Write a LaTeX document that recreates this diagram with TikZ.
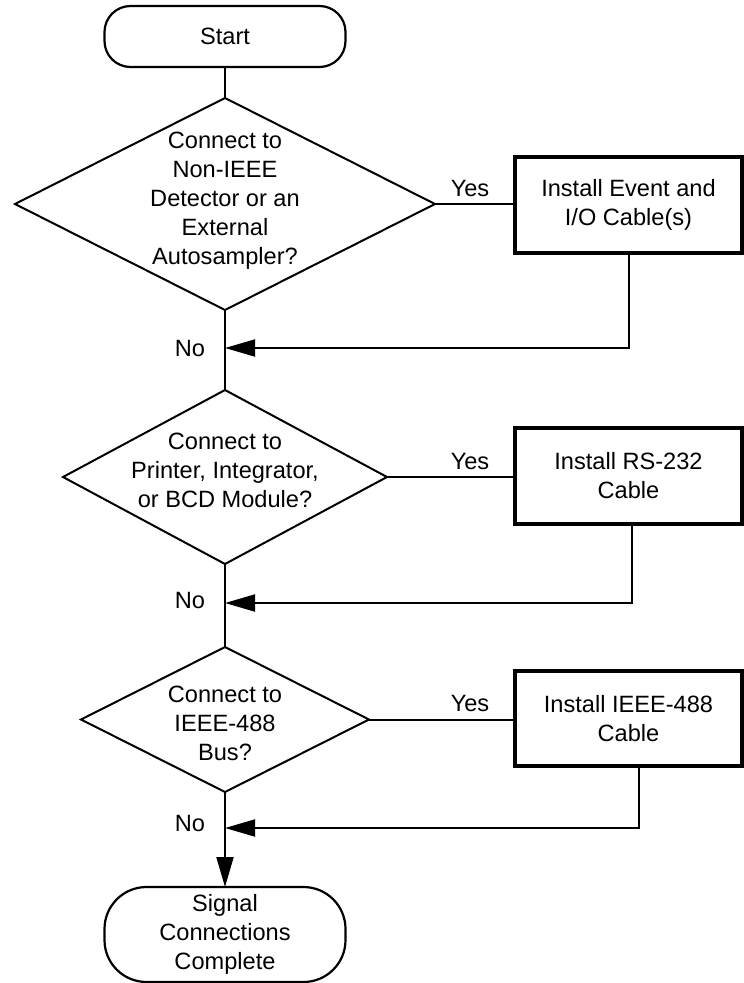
\documentclass[tikz,border=0pt]{standalone}
\usepackage{fontspec}
\setmainfont{Liberation Sans}
\usetikzlibrary{shapes.geometric,arrows.meta}
\begin{document}
\begin{tikzpicture}[x=1pt,y=-1pt,
  font=\fontsize{23.6}{29}\selectfont,
  term/.style={draw,line width=2.2pt,rectangle,minimum width=241pt,align=center,inner sep=0pt,outer sep=0pt},
  dia/.style={draw,line width=2pt,diamond,inner sep=0pt,outer sep=0pt},
  act/.style={draw,line width=4pt,rectangle,minimum width=227pt,align=center,inner sep=0pt,outer sep=0pt},
  conn/.style={line width=2pt,line join=miter},
  arr/.style={conn,-{Triangle[length=30pt,width=17pt]}},
  lbl/.style={inner sep=0pt,align=center}
]
\useasboundingbox (0,0) rectangle (744,983);

% terminators
\node[term,minimum height=61pt,rounded corners=26pt] (start) at (225,36.5) {Start};
\node[term,minimum height=95pt,rounded corners=42pt] (end) at (225,934.5) {Signal\\Connections\\Complete};

% decisions
\node[dia,minimum width=420pt,minimum height=212pt] (d1) at (225,204) {};
\node[lbl] (t1) at (225,201) {Connect to\\Non-IEEE\\Detector or an\\External\\Autosampler?};
\node[dia,minimum width=324pt,minimum height=174pt] (d2) at (225,477) {};
\node[lbl] (t2) at (225,470) {Connect to\\Printer, Integrator,\\or BCD Module?};
\node[dia,minimum width=288pt,minimum height=145pt] (d3) at (225,719.5) {};
\node[lbl] (t3) at (225,723) {Connect to\\IEEE-488\\Bus?};

% actions
\node[act,minimum height=96pt] (b1) at (628.5,205) {Install Event and\\I/O Cable(s)};
\node[act,minimum height=96pt] (b2) at (628.5,476) {Install RS-232\\Cable};
\node[act,minimum height=95pt] (b3) at (628.5,718.5) {Install IEEE-488\\Cable};

% junctions
\coordinate (j1) at (225,348);
\coordinate (j2) at (225,603);
\coordinate (j3) at (225,828);

% connectors
\draw[conn] (start.south) -- (d1.north);
\draw[conn] (d1.east) -- (d1.east -| b1.west);
\draw[arr] (b1.south) |- (j1);
\draw[conn] (d1.south) -- (d2.north);
\draw[conn] (d2.east) -- (d2.east -| b2.west);
\draw[arr] ([xshift=3pt]b2.south) |- (j2);
\draw[conn] (d2.south) -- (d3.north);
\draw[conn] (d3.east) -- (d3.east -| b3.west);
\draw[arr] ([xshift=10pt]b3.south) |- (j3);
\draw[arr] (d3.south) -- (end.north);

% labels
\node[lbl] (y1) at (470,188) {Yes};
\node[lbl] (y2) at (470,461) {Yes};
\node[lbl] (y3) at (470,703) {Yes};
\node[lbl] (n1) at (190,348) {No};
\node[lbl] (n2) at (190,600) {No};
\node[lbl] (n3) at (190,823) {No};
\end{tikzpicture}
\end{document}
